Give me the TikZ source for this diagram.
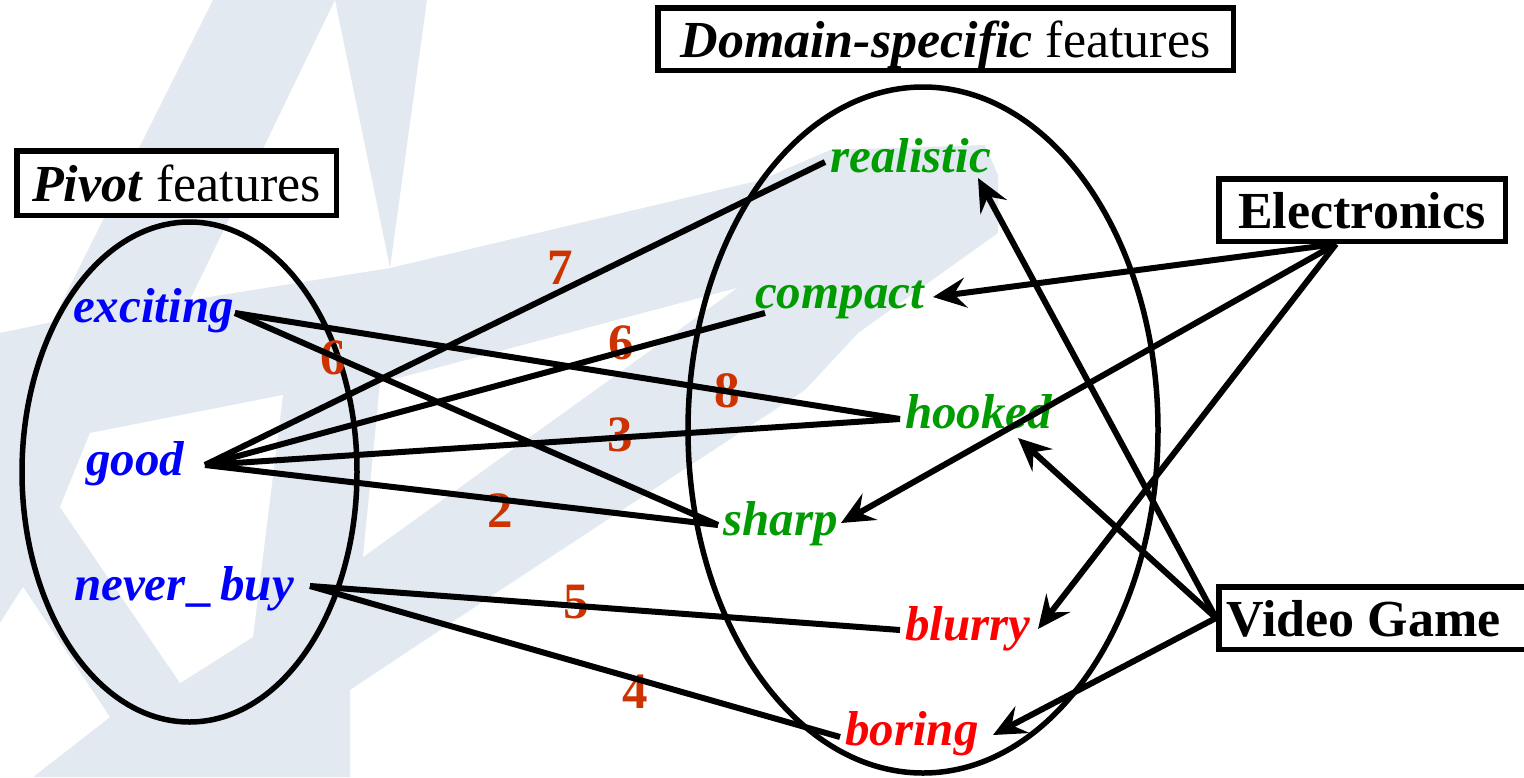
\documentclass[tikz,border=0pt]{standalone}
\usepackage{fontspec}
\setmainfont{Liberation Serif}
\usetikzlibrary{arrows.meta,calc}
\definecolor{wm}{RGB}{226,233,240}
\definecolor{pivblue}{RGB}{0,0,255}
\definecolor{domgreen}{RGB}{0,155,0}
\definecolor{domred}{RGB}{255,0,0}
\definecolor{wlabel}{RGB}{204,51,0}
\begin{document}
\begin{tikzpicture}[x=1pt,y=-1pt,
  box/.style={draw=black,line width=5.5pt,inner sep=0pt,text height=37pt,text depth=0pt,fill=white,font=\fontsize{52}{60}\selectfont},
  word/.style={inner sep=0pt,anchor=base west,font=\fontsize{49}{56}\selectfont\bfseries\itshape},
  piv/.style={word,text=pivblue},
  dgreen/.style={word,text=domgreen},
  dred/.style={word,text=domred},
  wt/.style={inner sep=0pt,text=wlabel,font=\fontsize{51}{56}\selectfont\bfseries},
  edge/.style={line width=6pt},
  arr/.style={line width=6pt,-{Stealth[length=33pt,width=30pt,inset=12pt]}},
  ring/.style={line width=5.5pt}]
\useasboundingbox (0,0) rectangle (1524,777);
% watermark
\fill[wm] (213,0) -- (427,0) -- (390,268) -- (508,240) -- (761,180) -- (830,150) -- (985,145) -- (998,175) -- (998,233) -- (858,333) -- (805,390) -- (508,585) -- (350,690) -- (350,777) -- (0,777) -- (0,333) -- (52,322) -- cycle;
\fill[white] (335,0) -- (190,300) -- (390,268) -- cycle;
\fill[white] (380,383) -- (737,288) -- (363,557) -- cycle;
\fill[white] (90,433) -- (283,395) -- (253,637) -- (180,683) -- (60,507) -- cycle;
\fill[white] (0,623) -- (23,587) -- (110,717) -- (33,777) -- (0,777) -- cycle;
% ellipses
\draw[ring] (189.5,472) ellipse [x radius=167.5pt, y radius=250pt];
\draw[ring] (923,430) ellipse [x radius=235pt, y radius=343pt];
% boxes
\node[box,minimum width=319.5pt,minimum height=64.5pt] (pivot) at (176.5,183) {\textbf{\textit{Pivot}} features};
\node[box,minimum width=575.5pt,minimum height=62.5pt] (domain) at (945.5,39) {\textbf{\textit{Domain-specific}} features};
\node[box,minimum width=286.5pt,minimum height=62.5pt] (elec) at (1362,210) {\textbf{Electronics}};
\node[box,minimum height=62.5pt] (vg) at (1383.75,618) {\makebox[330pt][l]{\hspace{8pt}\textbf{Video Game}}};
% words
\node[piv] (exciting) at (73,322) {exciting};
\node[piv] (good) at (86,475) {good};
\node[piv] (neverbuy) at (74,600) {never\kern4pt\_\kern6pt buy};
\node[dgreen] (realistic) at (830,172) {realistic};
\node[dgreen] (compact) at (755,308) {compact};
\node[dgreen] (hooked) at (905,428) {hooked};
\node[dgreen] (sharp) at (723,535) {sharp};
\node[dred] (blurry) at (905,640) {blurry};
\node[dred] (boring) at (845,745) {boring};
% weights
\node[wt] (w7) at (560,268) {7};
\node[wt] (w6a) at (333,358) {6};
\node[wt] (w6b) at (621,343) {6};
\node[wt] (w8) at (727,391) {8};
\node[wt] (w3) at (620,435) {3};
\node[wt] (w2) at (500,511) {2};
\node[wt] (w5) at (576,602) {5};
\node[wt] (w4) at (635,692) {4};
% edges
\draw[edge] ($(exciting.base west)+(162,-9)$) -- ($(hooked.base west)+(-5,-9)$);
\draw[edge] ($(exciting.base west)+(162,-9)$) -- ($(sharp.base west)+(-5,-10)$);
\draw[edge] ($(good.base west)+(119,-10)$) -- ($(realistic.base west)+(-5,-10)$);
\draw[edge] ($(good.base west)+(119,-10)$) -- ($(compact.base west)+(10,5)$);
\draw[edge] ($(good.base west)+(119,-10)$) -- ($(hooked.base west)+(-5,-9)$);
\draw[edge] ($(good.base west)+(119,-10)$) -- ($(sharp.base west)+(-5,-10)$);
\draw[edge] ($(neverbuy.base west)+(236,-14)$) -- ($(blurry.base west)+(-5,-10)$);
\draw[edge] ($(neverbuy.base west)+(236,-14)$) -- ($(boring.base west)+(-5,-8)$);
% arrows
\draw[arr] ($(elec.south)+(-26,0)$) -- ($(compact.base west)+(178,-11)$);
\draw[arr] ($(elec.south)+(-26,0)$) -- ($(sharp.base west)+(118,-12)$);
\draw[arr] ($(elec.south)+(-26,0)$) -- ($(blurry.base west)+(133,-11)$);
\draw[arr] (vg.west) -- ($(realistic.base west)+(148,6)$);
\draw[arr] (vg.west) -- ($(hooked.base west)+(113,10)$);
\draw[arr] (vg.west) -- ($(boring.base west)+(148,-10)$);
\end{tikzpicture}
\end{document}
